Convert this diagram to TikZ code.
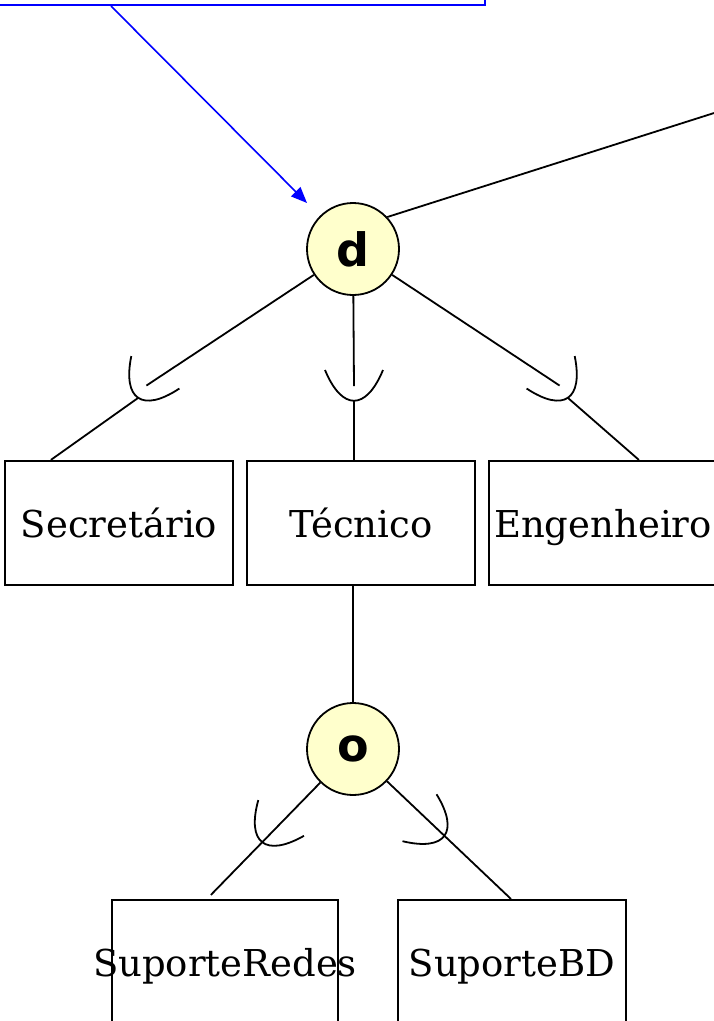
\documentclass[tikz,border=0pt]{standalone}
\usepackage{fontspec}
\setmainfont{DejaVu Serif}
\newfontfamily\specfont{DejaVu Sans}
\usetikzlibrary{calc,arrows.meta}
\definecolor{entfill}{HTML}{FFFFCC}
\tikzset{
  entity/.style={draw, line width=2.2pt, minimum width=228pt, minimum height=124pt,
    inner sep=0pt, text height=36pt, text depth=8pt, font=\fontsize{37}{40}\selectfont},
  spec/.style={circle, draw, line width=1.8pt, fill=entfill, minimum size=92pt,
    inner sep=0pt, font=\specfont\bfseries\fontsize{46}{50}\selectfont},
  link/.style={line width=1.8pt},
  subcup/.pic={
    \draw[line width=1.8pt] (-29,-31) .. controls (-12,10) and (12,10) .. (29,-31);
    \coordinate (-b) at (0,0);
    \coordinate (-in) at (0,-15);
  }
}
\begin{document}
\begin{tikzpicture}[x=1pt, y=-1pt]
  \useasboundingbox (0,0) rectangle (714,1021);
  \clip (0,0) rectangle (714,1021);
  \node[draw, blue, line width=2pt, minimum width=520pt, minimum height=60pt, anchor=south east] (note) at (486,6) {};
  \node[spec] (d) at (353,249) {d};
  \node[spec] (o) at (353,749) {o};
  \node[entity] (sec) at (119,523) {Secretário};
  \node[entity] (tec) at (361,523) {Técnico};
  \node[entity] (eng) at (603,523) {Engenheiro};
  \node[entity, minimum width=226pt] (sredes) at (225,962) {\makebox[0pt]{SuporteRedes}};
  \node[entity] (sbd) at (512,962) {SuporteBD};
  \coordinate (notefoot) at ($(note.south east)+(-375,0)$);
  \coordinate (dmark) at (307,203);
  \coordinate (super) at (1000,22);
  \coordinate (sec-top) at ($(sec.north west)+(47,0)$);
  \coordinate (eng-top) at ($(eng.north west)+(151,0)$);
  \coordinate (sredes-top) at ($(sredes.north west)+(100,-4)$);
  \coordinate (sbd-top) at ($(sbd.north west)+(114,0)$);
  \draw[blue, line width=1.6pt, -{Triangle[length=16pt, width=13pt]}] (notefoot) -- (dmark);
  \draw[link] (d.43) -- (super);
  \pic[rotate=-34] (cl) at (138,398) {subcup};
  \pic (cc) at (354,401) {subcup};
  \pic[rotate=34] (cr) at (568,398) {subcup};
  \draw[link] (d) -- (cl-in);
  \draw[link] (cl-b) -- (sec-top);
  \draw[link] (d) -- (cc-in);
  \draw[link] (cc-b) -- (cc-b |- tec.north);
  \draw[link] (d) -- (cr-in);
  \draw[link] (cr-b) -- (eng-top);
  \draw[link] (o |- tec.south) -- (o);
  \draw[link] (o) -- (sredes-top);
  \draw[link] (o) -- (sbd-top);
  \pic[rotate=-38] at ($(o)!0.64!(sredes-top)$) {subcup};
  \pic[rotate=54] at ($(o)!0.58!(sbd-top)$) {subcup};
\end{tikzpicture}
\end{document}
